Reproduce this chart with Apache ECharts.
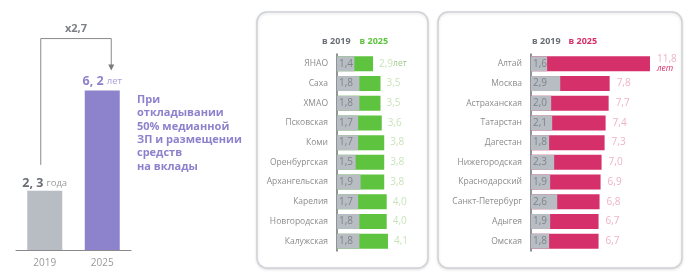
<!DOCTYPE html>
<html><head><meta charset="utf-8">
<script src="https://cdn.jsdelivr.net/npm/echarts@6/dist/echarts.min.js"></script>
<style>html,body{margin:0;padding:0;background:#fff}#c{width:700px;height:278px}</style>
</head><body><div id="c"></div>
<script>
// Left chart
const yearCats = ['2019', '2025'];
const yearVals = [2.3, 6.2];
const yearUnits = ['года', 'лет'];
const noteLines = ['При', 'откладывании', '50% медианной', 'ЗП и размещении', 'средств', 'на вклады'];

// Middle panel (green)
const greenRegions = ['ЯНАО', 'Саха', 'ХМАО', 'Псковская', 'Коми', 'Оренбургская', 'Архангельская', 'Карелия', 'Новгородская', 'Калужская'];
const green2019 = [1.4, 1.8, 1.8, 1.7, 1.7, 1.5, 1.9, 1.7, 1.8, 1.8];
const green2025 = [2.9, 3.5, 3.5, 3.6, 3.8, 3.8, 3.8, 4.0, 4.0, 4.1];

// Right panel (pink)
const pinkRegions = ['Алтай', 'Москва', 'Астраханская', 'Татарстан', 'Дагестан', 'Нижегородская', 'Краснодарский', 'Санкт-Петербург', 'Адыгея', 'Омская'];
const pink2019 = [1.6, 2.9, 2.0, 2.1, 1.8, 2.3, 1.9, 2.6, 1.9, 1.8];
const pink2025 = [11.8, 7.8, 7.7, 7.4, 7.3, 7.0, 6.9, 6.8, 6.7, 6.7];

const legendNames = ['в 2019', 'в 2025'];

const FONT = 'Open Sans';
const GRAY = '#b8bdc3';
const GREEN = '#5ec33f';
const PINK = '#d6306a';
const PURPLE = '#8d82cc';
const fmt = v => v.toFixed(1).replace('.', ',');

const chart = echarts.init(document.getElementById('c'), null, {renderer: 'canvas'});

function catAxis(gridIndex, data) {
  return {
    type: 'category', gridIndex, data, inverse: true,
    axisLine: {show: true, lineStyle: {color: '#6b6f75', width: 1.5}},
    axisTick: {show: false},
    axisLabel: {color: '#8c8c8c', fontSize: 8.5, fontFamily: FONT, margin: 9}
  };
}
function valAxis(gridIndex, max) {
  return {type: 'value', gridIndex, min: 0, max, show: false, splitLine: {show: false}};
}

const option = {
  animation: false,
  textStyle: {fontFamily: FONT},
  legend: [
    {data: [{name: legendNames[0], textStyle: {color: '#6b6f75'}}, {name: legendNames[1], textStyle: {color: GREEN}}],
     left: 312, top: 32, icon: 'none', itemWidth: 0, itemHeight: 0, itemGap: 4,
     selectedMode: false, textStyle: {fontSize: 9, fontWeight: 'bold', fontFamily: FONT, padding: 0}},
    {data: [{name: legendNames[0], textStyle: {color: '#6b6f75'}}, {name: legendNames[1], textStyle: {color: PINK}}],
     left: 522, top: 32, icon: 'none', itemWidth: 0, itemHeight: 0, itemGap: 3,
     selectedMode: false, textStyle: {fontSize: 9, fontWeight: 'bold', fontFamily: FONT, padding: 0}}
  ],
  grid: [
    {left: 16, right: 569, top: 70, bottom: 28},
    {left: 337, right: 276, top: 54, bottom: 27},
    {left: 531, right: 48, top: 54, bottom: 27}
  ],
  xAxis: [
    {type: 'category', gridIndex: 0, data: yearCats,
     axisLine: {lineStyle: {color: '#8a8a8a', width: 1}}, axisTick: {show: false},
     axisLabel: {color: '#9a9a9a', fontSize: 10, margin: 8, fontFamily: FONT}},
    valAxis(1, 7),
    valAxis(2, 12)
  ],
  yAxis: [
    {type: 'value', gridIndex: 0, min: 0, max: 7, show: false, splitLine: {show: false}},
    catAxis(1, greenRegions),
    catAxis(2, pinkRegions)
  ],
  series: [
    {type: 'bar', xAxisIndex: 0, yAxisIndex: 0, barWidth: 35,
     data: yearVals.map((v, i) => ({value: v, itemStyle: {color: i === 0 ? GRAY : PURPLE},
       label: {show: true, position: 'top', distance: i === 0 ? 1 : 3,
         formatter: '{a|' + fmt(v).replace(',', ', ') + '} {b|' + yearUnits[i] + '}',
         rich: i === 0
           ? {a: {fontSize: 12.5, fontWeight: 'bold', color: '#6a6e74', fontFamily: FONT}, b: {fontSize: 9.5, color: '#9a9a9a', fontFamily: FONT}}
           : {a: {fontSize: 12.5, fontWeight: 'bold', color: PURPLE, fontFamily: FONT}, b: {fontSize: 9.5, color: '#a9a1d8', fontFamily: FONT}}}
     }))},
    {name: legendNames[1], type: 'bar', xAxisIndex: 1, yAxisIndex: 1, barWidth: 15, barGap: '-100%',
     itemStyle: {color: GREEN}, data: green2025,
     label: {show: true, position: 'right', distance: 6, color: '#c9e4bb', fontSize: 10, fontFamily: FONT,
       formatter: p => p.dataIndex === 0 ? fmt(p.value) + '{u|лет}' : fmt(p.value),
       rich: {u: {color: '#9fc98c', fontSize: 8.5, fontFamily: FONT}}}},
    {name: legendNames[0], type: 'bar', xAxisIndex: 1, yAxisIndex: 1, barWidth: 15, barGap: '-100%',
     itemStyle: {color: GRAY}, data: green2019,
     label: {show: true, position: 'insideLeft', distance: 2, color: '#7f848b', fontSize: 10, fontFamily: FONT,
       formatter: p => fmt(p.value)}},
    {name: legendNames[1], type: 'bar', xAxisIndex: 2, yAxisIndex: 2, barWidth: 15, barGap: '-100%',
     itemStyle: {color: PINK}, data: pink2025,
     label: {show: true, position: 'right', distance: 7, color: '#eeb3c7', fontSize: 10, fontFamily: FONT,
       formatter: p => p.dataIndex === 0 ? fmt(p.value) + '\n{u|лет}' : fmt(p.value),
       rich: {u: {color: PINK, fontSize: 8.5, fontStyle: 'italic', fontFamily: FONT}}}},
    {name: legendNames[0], type: 'bar', xAxisIndex: 2, yAxisIndex: 2, barWidth: 15, barGap: '-100%',
     itemStyle: {color: GRAY}, data: pink2019,
     label: {show: true, position: 'insideLeft', distance: 2, color: '#7f848b', fontSize: 10, fontFamily: FONT,
       formatter: p => fmt(p.value)}}
  ]
};
chart.setOption(option);

// Annotations: panels, bracket, note text
const p19 = chart.convertToPixel({gridIndex: 0}, [0, yearVals[0]]);
const p25 = chart.convertToPixel({gridIndex: 0}, [1, yearVals[1]]);
const x1 = p19[0] - 4, y1 = p19[1] - 26;
const x2 = p25[0] + 9, yTop = p25[1] - 52, yEnd = p25[1] - 20;
const ratio = 'x' + fmt(yearVals[1] / yearVals[0]);

const graphics = [
  {type: 'rect', shape: {x: 257, y: 12, width: 171, height: 256, r: 10}, z: -10,
   style: {fill: '#fff', stroke: '#cfd2d6', lineWidth: 1.5, shadowBlur: 3, shadowColor: 'rgba(0,0,0,0.12)', shadowOffsetY: 1}},
  {type: 'rect', shape: {x: 438, y: 12, width: 244, height: 256, r: 10}, z: -10,
   style: {fill: '#fff', stroke: '#cfd2d6', lineWidth: 1.5, shadowBlur: 3, shadowColor: 'rgba(0,0,0,0.12)', shadowOffsetY: 1}},
  {type: 'polyline', shape: {points: [[x1, y1], [x1, yTop], [x2, yTop], [x2, yEnd - 5]]},
   style: {stroke: '#8a8a8a', lineWidth: 1, fill: null}},
  {type: 'polygon', shape: {points: [[x2 - 3, yEnd - 6], [x2 + 3, yEnd - 6], [x2, yEnd]]},
   style: {fill: '#7a7a7a'}},
  {type: 'text', x: (x1 + x2) / 2, y: yTop - 10,
   style: {text: ratio, fill: '#7b7f85', font: 'bold 11px "Open Sans"', textAlign: 'center', textVerticalAlign: 'middle'}},
  {type: 'text', x: 137, y: 93,
   style: {text: noteLines.join('\n'), fill: PURPLE, font: 'bold 11px "Open Sans"', lineHeight: 13.4, textAlign: 'left', textVerticalAlign: 'top'}}
];
chart.setOption({graphic: graphics});
</script></body></html>
